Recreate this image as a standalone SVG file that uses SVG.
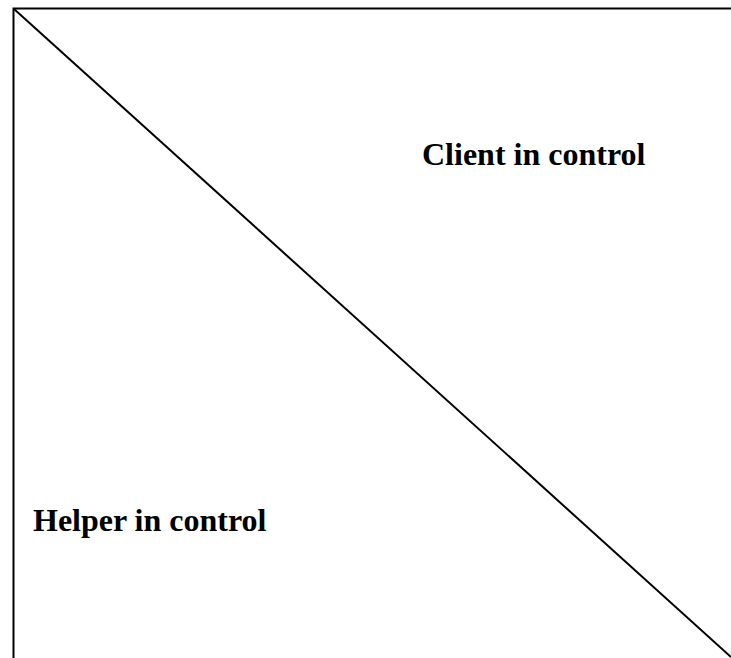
<svg xmlns="http://www.w3.org/2000/svg" width="731" height="658" viewBox="0 0 731 658">
<style>
.ln{stroke:#000;stroke-width:2;fill:none}
.lbl{font-family:"Liberation Serif","Times New Roman",serif;font-weight:bold;font-size:32px;fill:#000}
</style>
<rect width="731" height="658" fill="#fff"/>
<g id="frame">
<path class="ln" d="M13.5,658 V8.5 H731"/>
</g>
<g id="connectors">
<line class="ln" x1="14" y1="9" x2="731" y2="657"/>
</g>
<g id="client"><text class="lbl" x="422" y="165">Client in control</text></g>
<g id="helper"><text class="lbl" x="33" y="531">Helper in control</text></g>
</svg>
